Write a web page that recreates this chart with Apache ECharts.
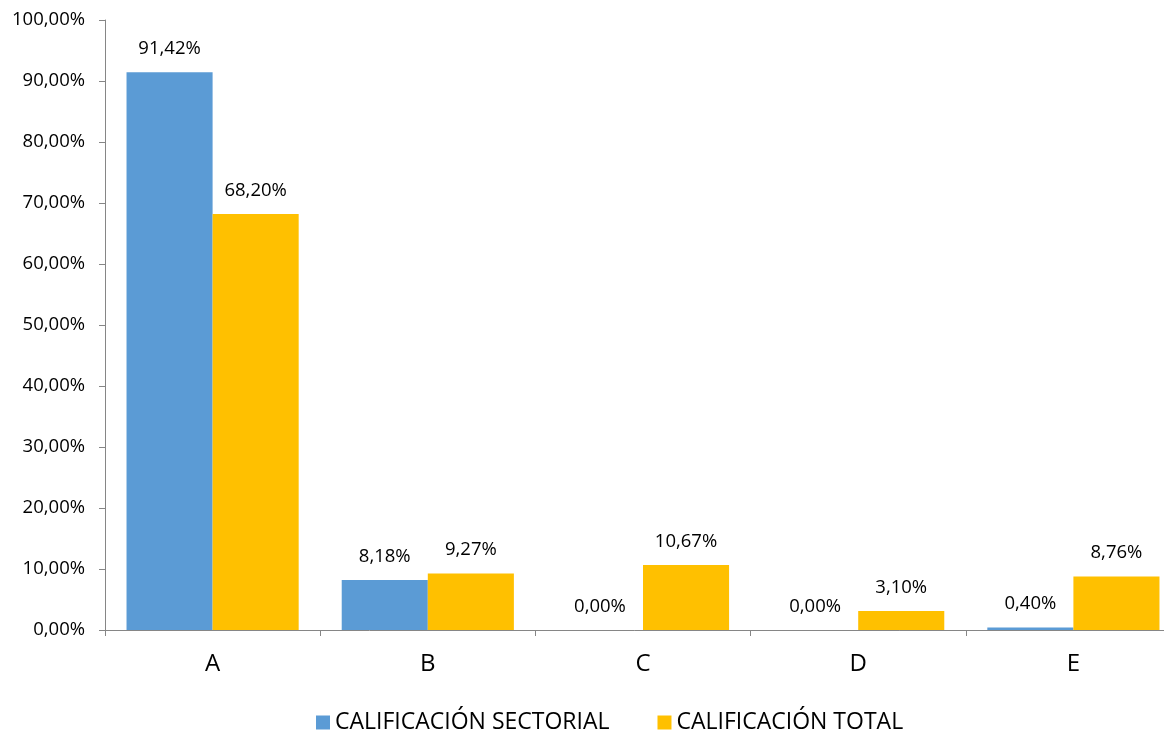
<!DOCTYPE html>
<html>
<head>
<meta charset="utf-8">
<script src="https://cdn.jsdelivr.net/npm/echarts@6/dist/echarts.min.js"></script>
<style>
  html, body { margin: 0; padding: 0; background: #fff; }
  #chart { width: 1164px; height: 730px; }
</style>
</head>
<body>
<div id="chart"></div>
<script>
const categories = ['A', 'B', 'C', 'D', 'E'];
const sectorial = [91.42, 8.18, 0.00, 0.00, 0.40];
const total = [68.20, 9.27, 10.67, 3.10, 8.76];
const seriesNames = ['CALIFICACIÓN SECTORIAL', 'CALIFICACIÓN TOTAL'];

const font = 'Open Sans, sans-serif';
const fmt = v => v.toFixed(2).replace('.', ',') + '%';

const chart = echarts.init(document.getElementById('chart'));
chart.setOption({
  animation: false,
  textStyle: { fontFamily: font, color: '#000' },
  // the plot area runs past the right edge, as in the original
  grid: { left: 105, right: -17, top: 20, bottom: 100, containLabel: false, outerBoundsMode: 'none' },
  legend: {
    top: 706,
    left: 311,
    itemWidth: 14,
    itemHeight: 14,
    itemGap: 48,
    icon: 'rect',
    textStyle: { fontSize: 23, fontFamily: font, color: '#000' },
    data: seriesNames
  },
  xAxis: {
    type: 'category',
    data: categories,
    axisLine: { lineStyle: { color: '#868686', width: 1 } },
    axisTick: { show: true, alignWithLabel: false, length: 6, lineStyle: { color: '#868686' } },
    axisLabel: { fontSize: 24, color: '#000', margin: 22, fontFamily: font }
  },
  yAxis: {
    type: 'value',
    min: 0,
    max: 100,
    interval: 10,
    splitLine: { show: false },
    axisLine: { show: true, lineStyle: { color: '#868686', width: 1 } },
    axisTick: { show: true, length: 6, lineStyle: { color: '#868686' } },
    axisLabel: { fontSize: 18.5, color: '#000', margin: 20, fontFamily: font, formatter: fmt }
  },
  series: [
    {
      name: seriesNames[0],
      type: 'bar',
      data: sectorial,
      barGap: '0%',
      barCategoryGap: '20%',
      itemStyle: { color: '#5B9BD5' },
      label: { show: true, position: 'top', distance: 14, fontSize: 18.5, color: '#000', fontFamily: font, formatter: p => fmt(p.value) }
    },
    {
      name: seriesNames[1],
      type: 'bar',
      data: total,
      itemStyle: { color: '#FFC000' },
      label: { show: true, position: 'top', distance: 14, fontSize: 18.5, color: '#000', fontFamily: font, formatter: p => fmt(p.value) }
    }
  ]
});
</script>
</body>
</html>
